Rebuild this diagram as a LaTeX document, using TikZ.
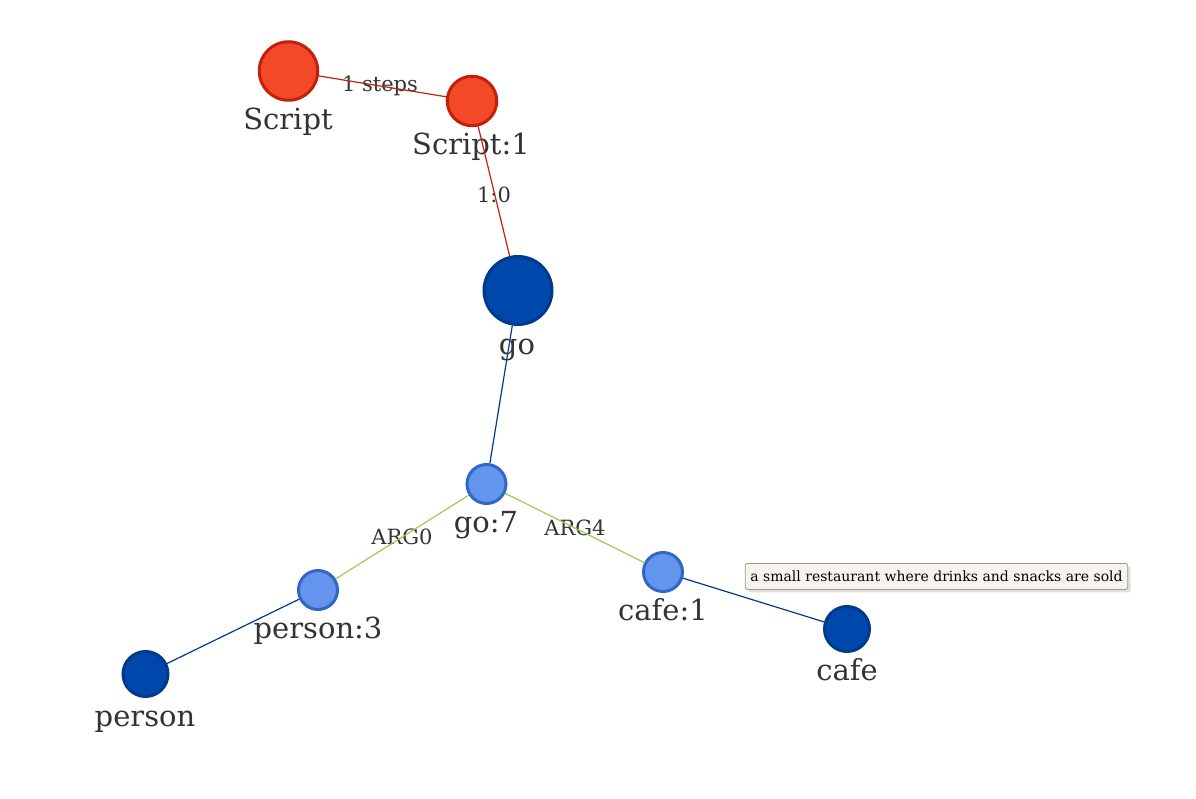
\documentclass[tikz,border=0pt]{standalone}
\usepackage{fontspec}
\setmainfont{DejaVu Serif}
\usetikzlibrary{shadows}
\definecolor{redfill}{HTML}{F24A28}
\definecolor{redline}{HTML}{C41F0A}
\definecolor{dbfill}{HTML}{0047AB}
\definecolor{dbline}{HTML}{003A8C}
\definecolor{lbfill}{HTML}{6495ED}
\definecolor{lbline}{HTML}{3366C4}
\definecolor{greenline}{HTML}{99CC55}
\definecolor{txt}{HTML}{333333}
\definecolor{tipfill}{HTML}{F5F3EC}
\tikzset{
  ent/.style={circle,inner sep=0pt,line width=3pt},
  redn/.style={ent,fill=redfill,draw=redline},
  darkn/.style={ent,fill=dbfill,draw=dbline},
  lightn/.style={ent,fill=lbfill,draw=lbline},
  nlab/.style={text=txt,font=\fontsize{29}{33}\selectfont,inner sep=0pt,anchor=base},
  elab/.style={text=txt,font=\fontsize{21}{24}\selectfont,inner sep=0pt},
  redge/.style={draw=redline,line width=1.2pt},
  bedge/.style={draw=dbline,line width=1.2pt},
  gedge/.style={draw=greenline,line width=1.2pt},
  tip/.style={draw=gray!80,fill=tipfill,rounded corners=2pt,line width=0.8pt,inner xsep=5pt,inner ysep=7.5pt,font=\fontsize{14}{16}\selectfont,drop shadow={shadow xshift=3pt,shadow yshift=-3pt,opacity=0.25}}
}
\begin{document}
\begin{tikzpicture}[x=1pt,y=-1pt]
\useasboundingbox (0,0) rectangle (1196,799);
% node labels
\node[nlab] (t1) at (288,130) {Script};
\node[nlab] (t2) at (471,155) {Script:1};
\node[nlab] (t3) at (517,354) {go};
\node[nlab] (t4) at (486,532) {go:7};
\node[nlab] (t5) at (318,638) {person:3};
\node[nlab] (t6) at (663,620) {cafe:1};
\node[nlab] (t7) at (145,726) {person};
\node[nlab] (t8) at (847,680) {cafe};
% edge labels
\node[elab] (l1) at (380,86) {1 steps};
\node[elab] (l2) at (494,195) {1:0};
\node[elab] (l3) at (402,537) {ARG0};
\node[elab] (l4) at (575,528) {ARG4};
% nodes
\node[redn,minimum size=58.5pt] (script) at (288.5,71) {};
\node[redn,minimum size=49.5pt] (script1) at (472,101) {};
\node[darkn,minimum size=68pt] (go) at (518,290.5) {};
\node[lightn,minimum size=39pt] (go7) at (486.5,484) {};
\node[lightn,minimum size=39pt] (person3) at (318,590) {};
\node[lightn,minimum size=39pt] (cafe1) at (663,572) {};
\node[darkn,minimum size=45pt] (person) at (145.5,674) {};
\node[darkn,minimum size=45pt] (cafe) at (847,629) {};
% edges
\path[redge] (script) -- (script1);
\path[redge] (script1) -- (go);
\path[bedge] (go) -- (go7);
\path[gedge] (go7) -- (person3);
\path[gedge] (go7) -- (cafe1);
\path[bedge] (person3) -- (person);
\path[bedge] (cafe1) -- (cafe);
% tooltip
\node[tip] (tooltip) at (936.5,576.5) {a small restaurant where drinks and snacks are sold};
\end{tikzpicture}
\end{document}
